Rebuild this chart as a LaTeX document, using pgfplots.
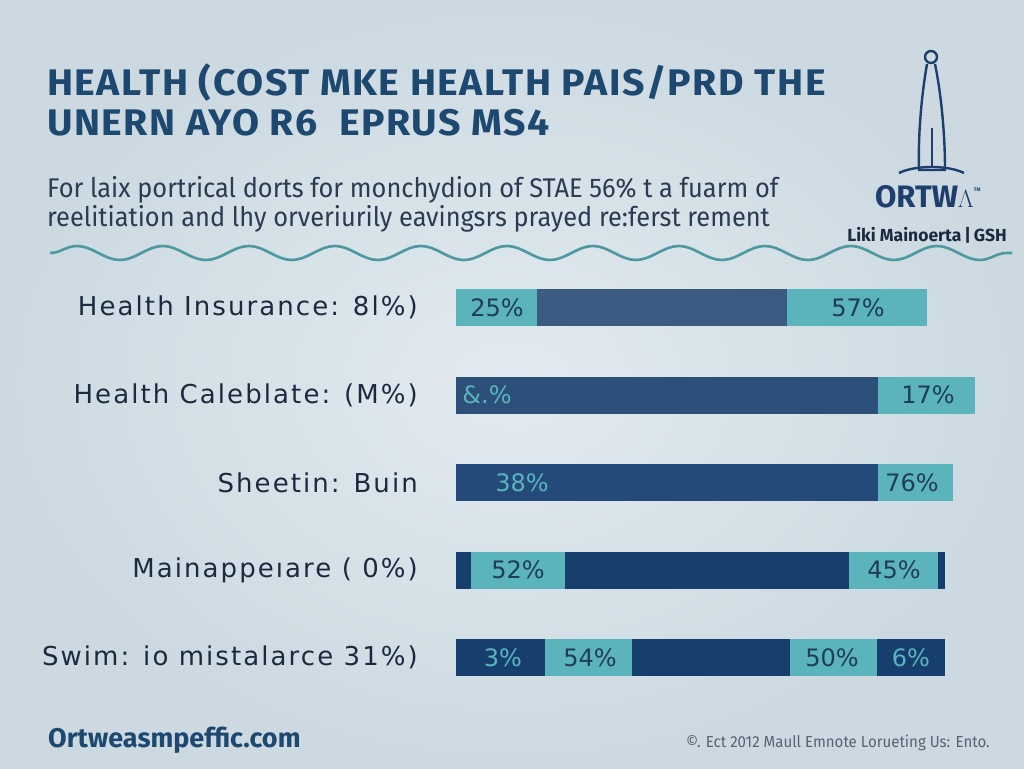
\documentclass[border=0pt]{standalone}
\usepackage{pgfplots}
\pgfplotsset{compat=1.18}
\usepackage{fontspec}
\usetikzlibrary{decorations.pathmorphing}
\setmainfont{DejaVu Sans}
\newfontfamily\labfont{DejaVu Sans}[LetterSpace=8]
\newfontfamily\valfont{DejaVu Sans}
\newfontfamily\firafont{Fira Sans}
\newfontfamily\titfont{Fira Sans}[LetterSpace=4,FakeStretch=1.06]
\newfontfamily\subfont{Fira Sans}[FakeStretch=0.94]
\definecolor{bgc}{HTML}{D5E2EA}
\definecolor{tealc}{HTML}{5BB4BC}
\definecolor{titlec}{HTML}{1D4870}
\definecolor{subc}{HTML}{2A3C52}
\definecolor{labc}{HTML}{1C2A3F}
\definecolor{dkA}{HTML}{3B5B82}
\definecolor{dkB}{HTML}{2C5079}
\definecolor{dkC}{HTML}{244A79}
\definecolor{dkD}{HTML}{163F6D}
\definecolor{txtdark}{HTML}{1F3C5A}
\definecolor{logoc}{HTML}{1E3F6E}
\begin{document}
\begin{tikzpicture}[x=1pt,y=1pt]
\useasboundingbox (0,0) rectangle (1024,768);
\shade[inner color=bgc!70!white, outer color=bgc!96!black] (0,0) rectangle (1024,768);
% title
\node[anchor=north west, inner sep=0pt, align=left, text=titlec, font=\titfont\bfseries\fontsize{37}{40}\selectfont] at (47,704)
 {HEALTH (COST MKE HEALTH PAIS/PRD THE\\UNERN AYO R6 \ EPRUS MS4};
% subtitle
\node[anchor=north west, inner sep=0pt, align=left, text=subc, font=\subfont\fontsize{27}{29.5}\selectfont] at (47,592)
 {For laix portrical dorts for monchydion of STAE 56\% t a fuarm of\\reelitiation and lhy orveriurily eavingsrs prayed re:ferst rement};
% wave
\draw[tealc!85!black, line width=2.6pt, decorate, decoration={snake, segment length=86pt, amplitude=7pt}] (50,515) -- (1012,515);
% logo
\begin{scope}[draw=logoc, line width=2.4pt]
\draw (931,711) circle (6);
\draw (927,704) .. controls (921,670) and (918,630) .. (919,598) -- (945,598) .. controls (945,640) and (940,680) .. (935,704);
\draw (932,640) -- (932,600);
\draw (899,595) .. controls (915,603) and (948,603) .. (964,595);
\end{scope}
\node[text=logoc, font=\firafont\bfseries\fontsize{31}{33}\selectfont, inner sep=0pt] at (928,571) {ORTW\raisebox{0pt}{$\Lambda$}\raisebox{14pt}{\tiny\textsuperscript{TM}}};
\node[text=labc, font=\firafont\bfseries\fontsize{17.5}{19}\selectfont, inner sep=0pt] at (927,533) {Liki Mainoerta\,|\,GSH};
% footer
\node[anchor=west, inner sep=0pt, text=titlec, font=\firafont\bfseries\fontsize{27}{30}\selectfont] at (48,28) {Ortweasmpeffic.com};
\node[anchor=east, inner sep=0pt, text=subc!80!white, font=\subfont\fontsize{16}{18}\selectfont] at (990,25) {\copyright. Ect 2012 Maull Emnote Lorueting Us: Ento.};
\begin{axis}[
 at={(456,76.25)}, anchor=south west, scale only axis,
 width=540pt, height=437.5pt,
 xmin=0, xmax=540, ymin=-0.5, ymax=4.5,
 axis line style={draw=none}, xtick=\empty,
 ytick={0,1,2,3,4}, major tick length=0pt,
 yticklabels={Swim: io mistalarce 31\%),Mainappeıare ( 0\%),Sheetin: Buin,Health Caleblate: (M\%),Health Insurance: 8l\%)},
 yticklabel style={font=\labfont\fontsize{26}{30}\selectfont, text=labc, anchor=east, inner sep=0pt, xshift=-38pt},
 clip=false,
 xbar, bar width=37pt, bar shift=0pt,
 every axis plot/.append style={draw=none},
]
% Health Insurance (y=4): cumulative segment ends, drawn longest first
\addplot[fill=tealc] coordinates {(471,4)};
\addplot[fill=dkA] coordinates {(331,4)};
\addplot[fill=tealc] coordinates {(81,4)};
% Health Caleblate (y=3)
\addplot[fill=tealc] coordinates {(519,3)};
\addplot[fill=dkB] coordinates {(422,3)};
% Sheetin (y=2)
\addplot[fill=tealc] coordinates {(497,2)};
\addplot[fill=dkC] coordinates {(422,2)};
% Mainappeiare (y=1)
\addplot[fill=dkD] coordinates {(489,1)};
\addplot[fill=tealc] coordinates {(482,1)};
\addplot[fill=dkD] coordinates {(393,1)};
\addplot[fill=tealc] coordinates {(109,1)};
\addplot[fill=dkD] coordinates {(15,1)};
% Swim (y=0)
\addplot[fill=dkD] coordinates {(489,0)};
\addplot[fill=tealc] coordinates {(421,0)};
\addplot[fill=dkD] coordinates {(334,0)};
\addplot[fill=tealc] coordinates {(176,0)};
\addplot[fill=dkD] coordinates {(89,0)};
% value labels
\tikzset{vd/.style={font=\valfont\fontsize{24}{28}\selectfont, text=txtdark, inner sep=0pt},
         vt/.style={font=\valfont\fontsize{24}{28}\selectfont, text=tealc, inner sep=0pt}}
\node[vd] at (axis cs:41,4) {25\%};
\node[vd] at (axis cs:402,4) {57\%};
\node[vt] at (axis cs:31,3) {\&.\%};
\node[vd] at (axis cs:472,3) {17\%};
\node[vt] at (axis cs:66,2) {38\%};
\node[vd] at (axis cs:456,2) {76\%};
\node[vd] at (axis cs:62,1) {52\%};
\node[vd] at (axis cs:438,1) {45\%};
\node[vt] at (axis cs:47,0) {3\%};
\node[vd] at (axis cs:134,0) {54\%};
\node[vd] at (axis cs:376,0) {50\%};
\node[vt] at (axis cs:455,0) {6\%};
\end{axis}
\end{tikzpicture}
\end{document}
